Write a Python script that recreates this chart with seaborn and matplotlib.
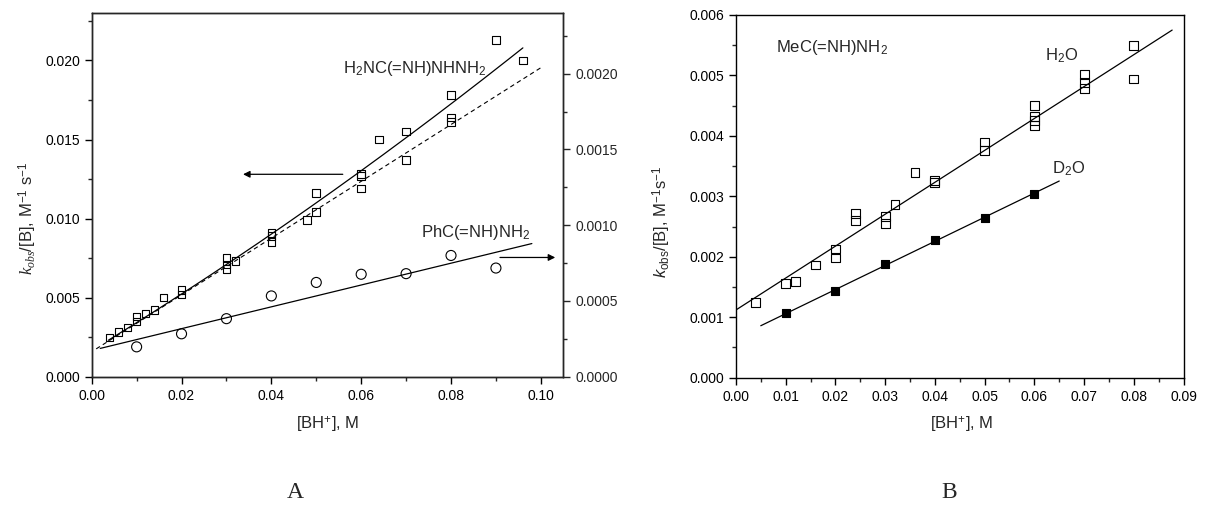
import numpy as np
import pandas as pd
import matplotlib
matplotlib.use("Agg")
import matplotlib.pyplot as plt
import seaborn as sns
from matplotlib.ticker import MultipleLocator, FormatStrFormatter

# ---------------- Panel A data ----------------
a_sq_x = [0.004, 0.006, 0.008, 0.010, 0.010, 0.012, 0.014, 0.016, 0.020, 0.020,
          0.030, 0.030, 0.030, 0.032, 0.040, 0.040, 0.040, 0.048, 0.050, 0.050,
          0.060, 0.060, 0.060, 0.064, 0.070, 0.070, 0.080, 0.080, 0.080, 0.090, 0.096]
a_sq_y = [0.00247, 0.00282, 0.0031, 0.0038, 0.0035, 0.0040, 0.0042, 0.0050, 0.0055, 0.0052,
          0.0075, 0.0071, 0.0068, 0.0073, 0.0091, 0.0089, 0.0085, 0.0099, 0.0116, 0.0104,
          0.0128, 0.0127, 0.0119, 0.0150, 0.0155, 0.0137, 0.0178, 0.0164, 0.0161, 0.0213, 0.0200]
a_circ_x = [0.01, 0.02, 0.03, 0.04, 0.05, 0.06, 0.07, 0.08, 0.09]
a_circ_y = [0.000197, 0.000283, 0.000383, 0.000533, 0.000622, 0.000676, 0.00068, 0.0008, 0.000717]

a_solid_coef = [0.00166, 0.173, 0.274]     # quadratic fit  a + b x + c x^2
a_solid_range = [0.0037, 0.096]
a_dash_coef = [0.00158, 0.1796]            # linear fit
a_dash_range = [0.001, 0.100]
a_circ_coef = [0.000173, 0.0072]           # linear fit (right axis)
a_circ_range = [0.0019, 0.098]

# ---------------- Panel B data ----------------
b_h2o_x = [0.004, 0.010, 0.012, 0.016, 0.020, 0.020, 0.024, 0.024, 0.030, 0.030,
           0.032, 0.036, 0.040, 0.040, 0.050, 0.050, 0.060, 0.060, 0.060, 0.060,
           0.070, 0.070, 0.070, 0.080, 0.080]
b_h2o_y = [0.00124, 0.001555, 0.00159, 0.001864, 0.00213, 0.00198, 0.00271, 0.0026, 0.00267, 0.00255,
           0.00287, 0.0034, 0.00326, 0.00323, 0.0039, 0.00376, 0.0045, 0.00432, 0.00425, 0.00417,
           0.00501, 0.00488, 0.00479, 0.00549, 0.00494]
b_d2o_x = [0.01, 0.02, 0.03, 0.04, 0.05, 0.06]
b_d2o_y = [0.001065, 0.00143, 0.00188, 0.00227, 0.00265, 0.00304]

b_h2o_coef = [0.00112, 0.0528]
b_h2o_range = [0.0, 0.0877]
b_d2o_coef = [0.00066, 0.0399]
b_d2o_range = [0.005, 0.065]

# ---------------- style ----------------
sns.set_theme(style="ticks")
plt.rcParams["font.family"] = ["Liberation Sans", "DejaVu Sans"]
plt.rcParams["mathtext.fontset"] = "custom"
plt.rcParams["mathtext.rm"] = "Liberation Sans"
plt.rcParams["mathtext.sf"] = "Liberation Sans"
plt.rcParams["mathtext.it"] = "Liberation Serif:italic"
plt.rcParams["mathtext.bf"] = "Liberation Sans:italic"
plt.rcParams["axes.linewidth"] = 1.0

fig = plt.figure(figsize=(12.08, 5.08), dpi=100)
W, H = 1208.0, 508.0

def px_axes(l, t, r, b):
    return fig.add_axes([l / W, 1 - b / H, (r - l) / W, (b - t) / H])

axA = px_axes(91.7, 13, 563.3, 376.7)
axB = px_axes(735.9, 15, 1183.6, 377.7)

def style_axis(ax):
    ax.tick_params(which="major", direction="out", length=5, width=1.0,
                   labelsize=10, colors="black", top=False, right=False)
    ax.tick_params(which="minor", direction="out", length=3, width=1.0,
                   top=False, right=False)
    for s in ax.spines.values():
        s.set_visible(True)
        s.set_color("black")
        s.set_linewidth(1.0)

def line_df(coef, rng):
    xs = np.linspace(rng[0], rng[1], 200)
    ys = np.polyval(list(coef)[::-1], xs)
    return pd.DataFrame({"x": xs, "y": ys})

# ---------------- Panel A ----------------
dfA = pd.DataFrame({"x": a_sq_x, "y": a_sq_y})
sns.scatterplot(data=dfA, x="x", y="y", ax=axA, marker="s", s=30,
                facecolor="none", edgecolor="black", linewidth=0.8, zorder=3)
sns.lineplot(data=line_df(a_solid_coef, a_solid_range), x="x", y="y", ax=axA,
             color="black", lw=0.9, estimator=None, sort=False)
sns.lineplot(data=line_df(a_dash_coef, a_dash_range), x="x", y="y", ax=axA,
             color="black", lw=0.8, linestyle=(0, (4, 3)), estimator=None, sort=False)
axA.set_xlim(0, 0.105)
axA.set_ylim(0, 0.023)
axA.xaxis.set_major_locator(MultipleLocator(0.02))
axA.xaxis.set_minor_locator(MultipleLocator(0.01))
axA.yaxis.set_major_locator(MultipleLocator(0.005))
axA.yaxis.set_minor_locator(MultipleLocator(0.0025))
axA.xaxis.set_major_formatter(FormatStrFormatter("%.2f"))
axA.yaxis.set_major_formatter(FormatStrFormatter("%.3f"))
axA.set_xlabel("")
axA.set_ylabel("")
style_axis(axA)

axR = axA.twinx()
dfC = pd.DataFrame({"x": a_circ_x, "y": a_circ_y})
sns.scatterplot(data=dfC, x="x", y="y", ax=axR, marker="o", s=52,
                facecolor="none", edgecolor="black", linewidth=0.8, zorder=3)
sns.lineplot(data=line_df(a_circ_coef, a_circ_range), x="x", y="y", ax=axR,
             color="black", lw=0.9, estimator=None, sort=False)
axR.set_ylim(0, 0.0024)
axR.set_xlim(0, 0.105)
axR.yaxis.set_major_locator(MultipleLocator(0.0005))
axR.yaxis.set_minor_locator(MultipleLocator(0.00025))
axR.yaxis.set_major_formatter(FormatStrFormatter("%.4f"))
axR.set_ylabel("")
axR.set_xlabel("")
axR.tick_params(which="major", direction="out", length=5, width=1.0, labelsize=10,
                right=True, left=False, labelright=True, labelleft=False)
axR.tick_params(which="minor", direction="out", length=3, width=1.0,
                right=True, left=False)

axA.text(0.0559, 0.0192, r"H$_2$NC(=NH)NHNH$_2$", fontsize=12, va="baseline", ha="left")
axA.text(0.0734, 0.00883, r"PhC(=NH)NH$_2$", fontsize=12, va="baseline", ha="left")
axA.annotate("", xy=(0.0337, 0.0128), xytext=(0.0559, 0.0128),
             arrowprops=dict(arrowstyle="-|>", color="black", lw=0.9,
                             mutation_scale=10, shrinkA=0, shrinkB=0))
axA.annotate("", xy=(0.1032, 0.00754), xytext=(0.0909, 0.00754),
             arrowprops=dict(arrowstyle="-|>", color="black", lw=0.9,
                             mutation_scale=10, shrinkA=0, shrinkB=0),
             annotation_clip=False)

# ---------------- Panel B ----------------
dfH = pd.DataFrame({"x": b_h2o_x, "y": b_h2o_y})
dfD = pd.DataFrame({"x": b_d2o_x, "y": b_d2o_y})
sns.scatterplot(data=dfH, x="x", y="y", ax=axB, marker="s", s=40,
                facecolor="none", edgecolor="black", linewidth=0.8, zorder=3)
sns.scatterplot(data=dfD, x="x", y="y", ax=axB, marker="s", s=40,
                facecolor="black", edgecolor="black", linewidth=0.8, zorder=3)
sns.lineplot(data=line_df(b_h2o_coef, b_h2o_range), x="x", y="y", ax=axB,
             color="black", lw=0.9, estimator=None, sort=False)
sns.lineplot(data=line_df(b_d2o_coef, b_d2o_range), x="x", y="y", ax=axB,
             color="black", lw=0.9, estimator=None, sort=False)
axB.set_xlim(0, 0.09)
axB.set_ylim(0, 0.006)
axB.xaxis.set_major_locator(MultipleLocator(0.01))
axB.xaxis.set_minor_locator(MultipleLocator(0.005))
axB.yaxis.set_major_locator(MultipleLocator(0.001))
axB.yaxis.set_minor_locator(MultipleLocator(0.0005))
axB.xaxis.set_major_formatter(FormatStrFormatter("%.2f"))
axB.yaxis.set_major_formatter(FormatStrFormatter("%.3f"))
axB.set_xlabel("")
axB.set_ylabel("")
style_axis(axB)

axB.text(0.00808, 0.005385, r"MeC(=NH)NH$_2$", fontsize=12, va="baseline", ha="left")
axB.text(0.0622, 0.00524, r"H$_2$O", fontsize=12, va="baseline", ha="left")
axB.text(0.0636, 0.00337, r"D$_2$O", fontsize=12, va="baseline", ha="left")

# ---------------- labels ----------------
fig.text(27.5 / W, 1 - 218 / H, r"$k_{obs}$/[B], M$^{-1}$ s$^{-1}$", rotation=90,
         fontsize=12, ha="center", va="center")
fig.text(661.5 / W, 1 - 222 / H, r"$\mathbf{k}_{\mathrm{obs}}$/[B], M$^{-1}$s$^{-1}$",
         rotation=90, fontsize=12, ha="center", va="center")
fig.text(327.5 / W, 1 - 425 / H, r"[BH$^{+}$], M", fontsize=12, ha="center", va="center")
fig.text(962 / W, 1 - 425 / H, r"[BH$^{+}$], M", fontsize=12, ha="center", va="center")
fig.text(295 / W, 1 - 493 / H, "A", fontsize=17, family="Liberation Serif",
         ha="center", va="center")
fig.text(949 / W, 1 - 492 / H, "B", fontsize=17, family="Liberation Serif",
         ha="center", va="center")

fig.savefig("out.png", dpi=100)
